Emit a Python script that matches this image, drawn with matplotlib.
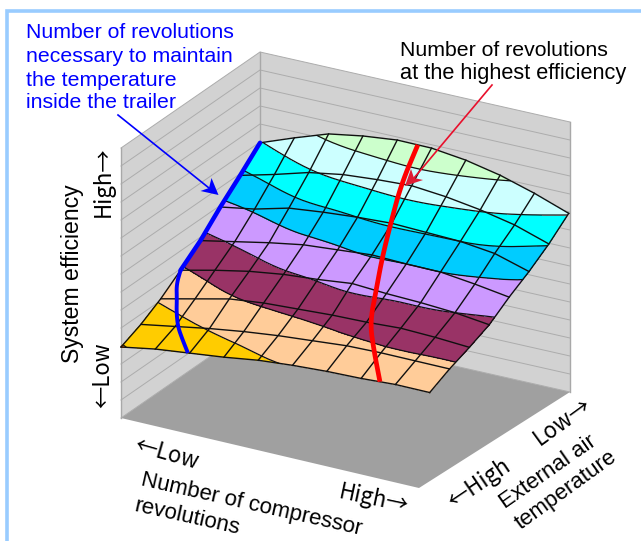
import numpy as np
import matplotlib
matplotlib.use("Agg")
from matplotlib import pyplot as plt
from matplotlib import tri as mtri

plt.rcParams['font.family'] = ['Liberation Sans', 'DejaVu Sans']
ARROW_FONT = ['Noto Sans CJK JP', 'DejaVu Sans']

# height of the surface above the floor, one row per temperature step (front to back)
eff_t0 = [71, 77, 81, 85, 90, 93, 95, 96, 98, 98]
eff_t1 = [81, 87, 93, 98, 102, 105, 108, 109, 109, 109]
eff_t2 = [94, 102, 110, 114, 116, 118, 119, 121, 120, 118]
eff_t3 = [110, 118, 125, 130, 133, 137, 135, 134, 132, 128]
eff_t4 = [127, 134, 141, 147, 150, 153, 152, 152, 148, 143]
eff_t5 = [148, 154, 163, 167, 170, 172, 171, 170, 166, 156]
eff_t6 = [167, 176, 186, 192, 195, 197, 194, 189, 182, 171]
eff_t7 = [187, 200, 212, 218, 222, 222, 218, 211, 201, 189]

levels = [40, 72, 92, 112, 132, 152, 170, 188, 208, 240]
band_colors = ['#ff6600', '#ffcc00', '#ffcc99', '#993366', '#cc99ff',
               '#00ccff', '#00ffff', '#ccffff', '#ccffcc']

# the two curves, as (compressor step, temperature step) on the surface
blue_rev = [0, 0.17, 0.47, 0.75, 1.08, 1.5, 1.95]
blue_temp = [3, 2.5, 2, 1.5, 1, 0.5, 0]
red_rev = [7.55, 6.8, 6.1, 5.7, 5.3, 4.97, 4.7, 4.6]
red_temp = [0, 1, 2, 3, 4, 5, 6, 7]

Z = np.array([eff_t0, eff_t1, eff_t2, eff_t3, eff_t4, eff_t5, eff_t6, eff_t7], dtype=float)
n_temp, n_rev = Z.shape


def project(i, j, z):
    # oblique view of the box, result in image pixels
    sx = 121 + 34.3 * np.asarray(i) + 19.86 * np.asarray(j)
    sy = 418 + 8.06 * np.asarray(i) - 12.6 * np.asarray(j) - np.asarray(z)
    return sx, sy


def height(i, j):
    i = np.asarray(i, dtype=float)
    j = np.asarray(j, dtype=float)
    i0 = np.clip(np.floor(i).astype(int), 0, n_rev - 2)
    j0 = np.clip(np.floor(j).astype(int), 0, n_temp - 2)
    a = i - i0
    b = j - j0
    return (Z[j0, i0] * (1 - a) * (1 - b) + Z[j0, i0 + 1] * a * (1 - b)
            + Z[j0 + 1, i0] * (1 - a) * b + Z[j0 + 1, i0 + 1] * a * b)


def on_surface(i, j):
    return project(i, j, height(i, j))


def smooth(x, y, rounds=3):
    # corner cutting, the ends stay where they are
    x = np.asarray(x, dtype=float)
    y = np.asarray(y, dtype=float)
    for _ in range(rounds):
        x = np.concatenate([x[:1], np.ravel(np.column_stack([0.75 * x[:-1] + 0.25 * x[1:],
                                                             0.25 * x[:-1] + 0.75 * x[1:]])), x[-1:]])
        y = np.concatenate([y[:1], np.ravel(np.column_stack([0.75 * y[:-1] + 0.25 * y[1:],
                                                             0.25 * y[:-1] + 0.75 * y[1:]])), y[-1:]])
    return x, y


def callout(start, tip, wing_a, notch, wing_b, line_color, head_color):
    ax.plot([start[0], notch[0]], [start[1], notch[1]], color=line_color, lw=1.2, zorder=7)
    ax.fill([tip[0], wing_a[0], notch[0], wing_b[0]], [tip[1], wing_a[1], notch[1], wing_b[1]],
            color=head_color, lw=0, zorder=7)


fig = plt.figure(figsize=(6.41, 5.41), dpi=100)
ax = fig.add_axes([0, 0, 1, 1])
ax.set_xlim(0, 641)
ax.set_ylim(541, 0)
ax.axis('off')

# page frame
ax.plot([6.5, 6.5, 641], [541, 10.5, 10.5], color='#99ccff', lw=2.6, solid_joinstyle='miter')

# box: walls and floor
wall_h = 270
left_x, back_x, right_x = 121, 260, 570
left_y, back_y, right_y = 418, 322, 392
front_x, front_y = 419, 488
ax.fill([left_x, left_x, back_x, back_x], [left_y, left_y - wall_h, back_y - wall_h, back_y],
        color='#d2d2d2', lw=0)
ax.fill([back_x, back_x, right_x, right_x], [back_y, back_y - wall_h, right_y - wall_h, right_y],
        color='#d2d2d2', lw=0)
ax.fill([left_x, back_x, right_x, front_x], [left_y, back_y, right_y, front_y],
        color='#a0a0a0', lw=0)
for k in range(0, 16):
    dz = 18 * k
    ax.plot([left_x, back_x, right_x], [left_y - dz, back_y - dz, right_y - dz],
            color='#acacac', lw=0.7)
for wx, wy in [(left_x, left_y), (back_x, back_y), (right_x, right_y)]:
    ax.plot([wx, wx], [wy, wy - wall_h], color='#a8a8a8', lw=1)

# surface bands
II, JJ = np.meshgrid(np.arange(n_rev), np.arange(n_temp))
SX, SY = project(II, JJ, Z)
triangles = []
for j in range(n_temp - 1):
    for i in range(n_rev - 1):
        p = j * n_rev + i
        triangles.append([p, p + 1, p + n_rev])
        triangles.append([p + 1, p + n_rev + 1, p + n_rev])
tr = mtri.Triangulation(SX.ravel(), SY.ravel(), triangles)
refiner = mtri.UniformTriRefiner(tr)
tr_fine, z_fine = refiner.refine_field(Z.ravel(), subdiv=2)
ax.tricontourf(tr_fine, z_fine, levels=levels, colors=band_colors, zorder=3)
ax.tricontour(tr_fine, z_fine, levels=levels[1:-1], colors='#101010', linewidths=0.9, zorder=4)

# surface grid
for j in range(n_temp):
    ax.plot(SX[j, :], SY[j, :], color='#101010', lw=1.0, zorder=5)
for i in range(n_rev):
    ax.plot(SX[:, i], SY[:, i], color='#101010', lw=1.0, zorder=5)

# curves
sx, sy = on_surface(np.zeros(5), np.arange(3, 8))
ax.plot(sx, sy, color='#0000ff', lw=3.2, zorder=6, solid_capstyle='round')
sx, sy = smooth(*on_surface(blue_rev, blue_temp))
ax.plot(sx, sy, color='#0000ff', lw=2.8, zorder=6, solid_capstyle='butt', solid_joinstyle='round')
sx, sy = smooth(*on_surface(red_rev, red_temp))
ax.plot(sx, sy, color='#ff0000', lw=3.4, zorder=6, solid_capstyle='butt', solid_joinstyle='round')

# callouts
callout((118, 115), (218.5, 195), (211.5, 178), (209, 188), (200.5, 191), '#0000ff', '#0000ff')
callout((492, 85), (405, 186), (411, 169), (414, 178), (423, 180), '#e8102c', '#e01c34')

for txt, yy in zip(['Number of revolutions', 'necessary to maintain', 'the temperature', 'inside the trailer'],
                   [33, 57, 80, 102]):
    ax.text(26, yy, txt, color='#0000ff', fontsize=15.3, va='center', ha='left', zorder=8)
ax.text(400, 50, 'Number of revolutions', color='black', fontsize=15.3, va='center', ha='left', zorder=8)
ax.text(400, 73, 'at the highest efficiency', color='black', fontsize=15.7, va='center', ha='left', zorder=8)

ax.text(72, 274, 'System efficiency', fontsize=16.6, rotation=90, ha='center', va='center')
ax.text(103, 182, 'High→', fontsize=16, rotation=90, ha='center', va='center', family=ARROW_FONT)
ax.text(103, 375, '←Low', fontsize=16, rotation=90, ha='center', va='center', family=ARROW_FONT)
ax.text(167, 454, '←Low', fontsize=16, rotation=-16, ha='center', va='center', family=ARROW_FONT)
ax.text(251, 505, 'Number of compressor', fontsize=16, rotation=-12.7, ha='center', va='center')
ax.text(187, 517, 'revolutions', fontsize=16, rotation=-12.5, ha='center', va='center')
ax.text(374, 499, 'High→', fontsize=16, rotation=-12, ha='center', va='center', family=ARROW_FONT)
ax.text(479, 484, '←High', fontsize=16, rotation=34, ha='center', va='center', family=ARROW_FONT)
ax.text(562, 421, 'Low→', fontsize=16, rotation=36, ha='center', va='center', family=ARROW_FONT)
ax.text(548, 472, 'External air', fontsize=16, rotation=35, ha='center', va='center')
ax.text(566, 490, 'temperature', fontsize=16, rotation=36, ha='center', va='center')

fig.savefig('out.png', dpi=100)
